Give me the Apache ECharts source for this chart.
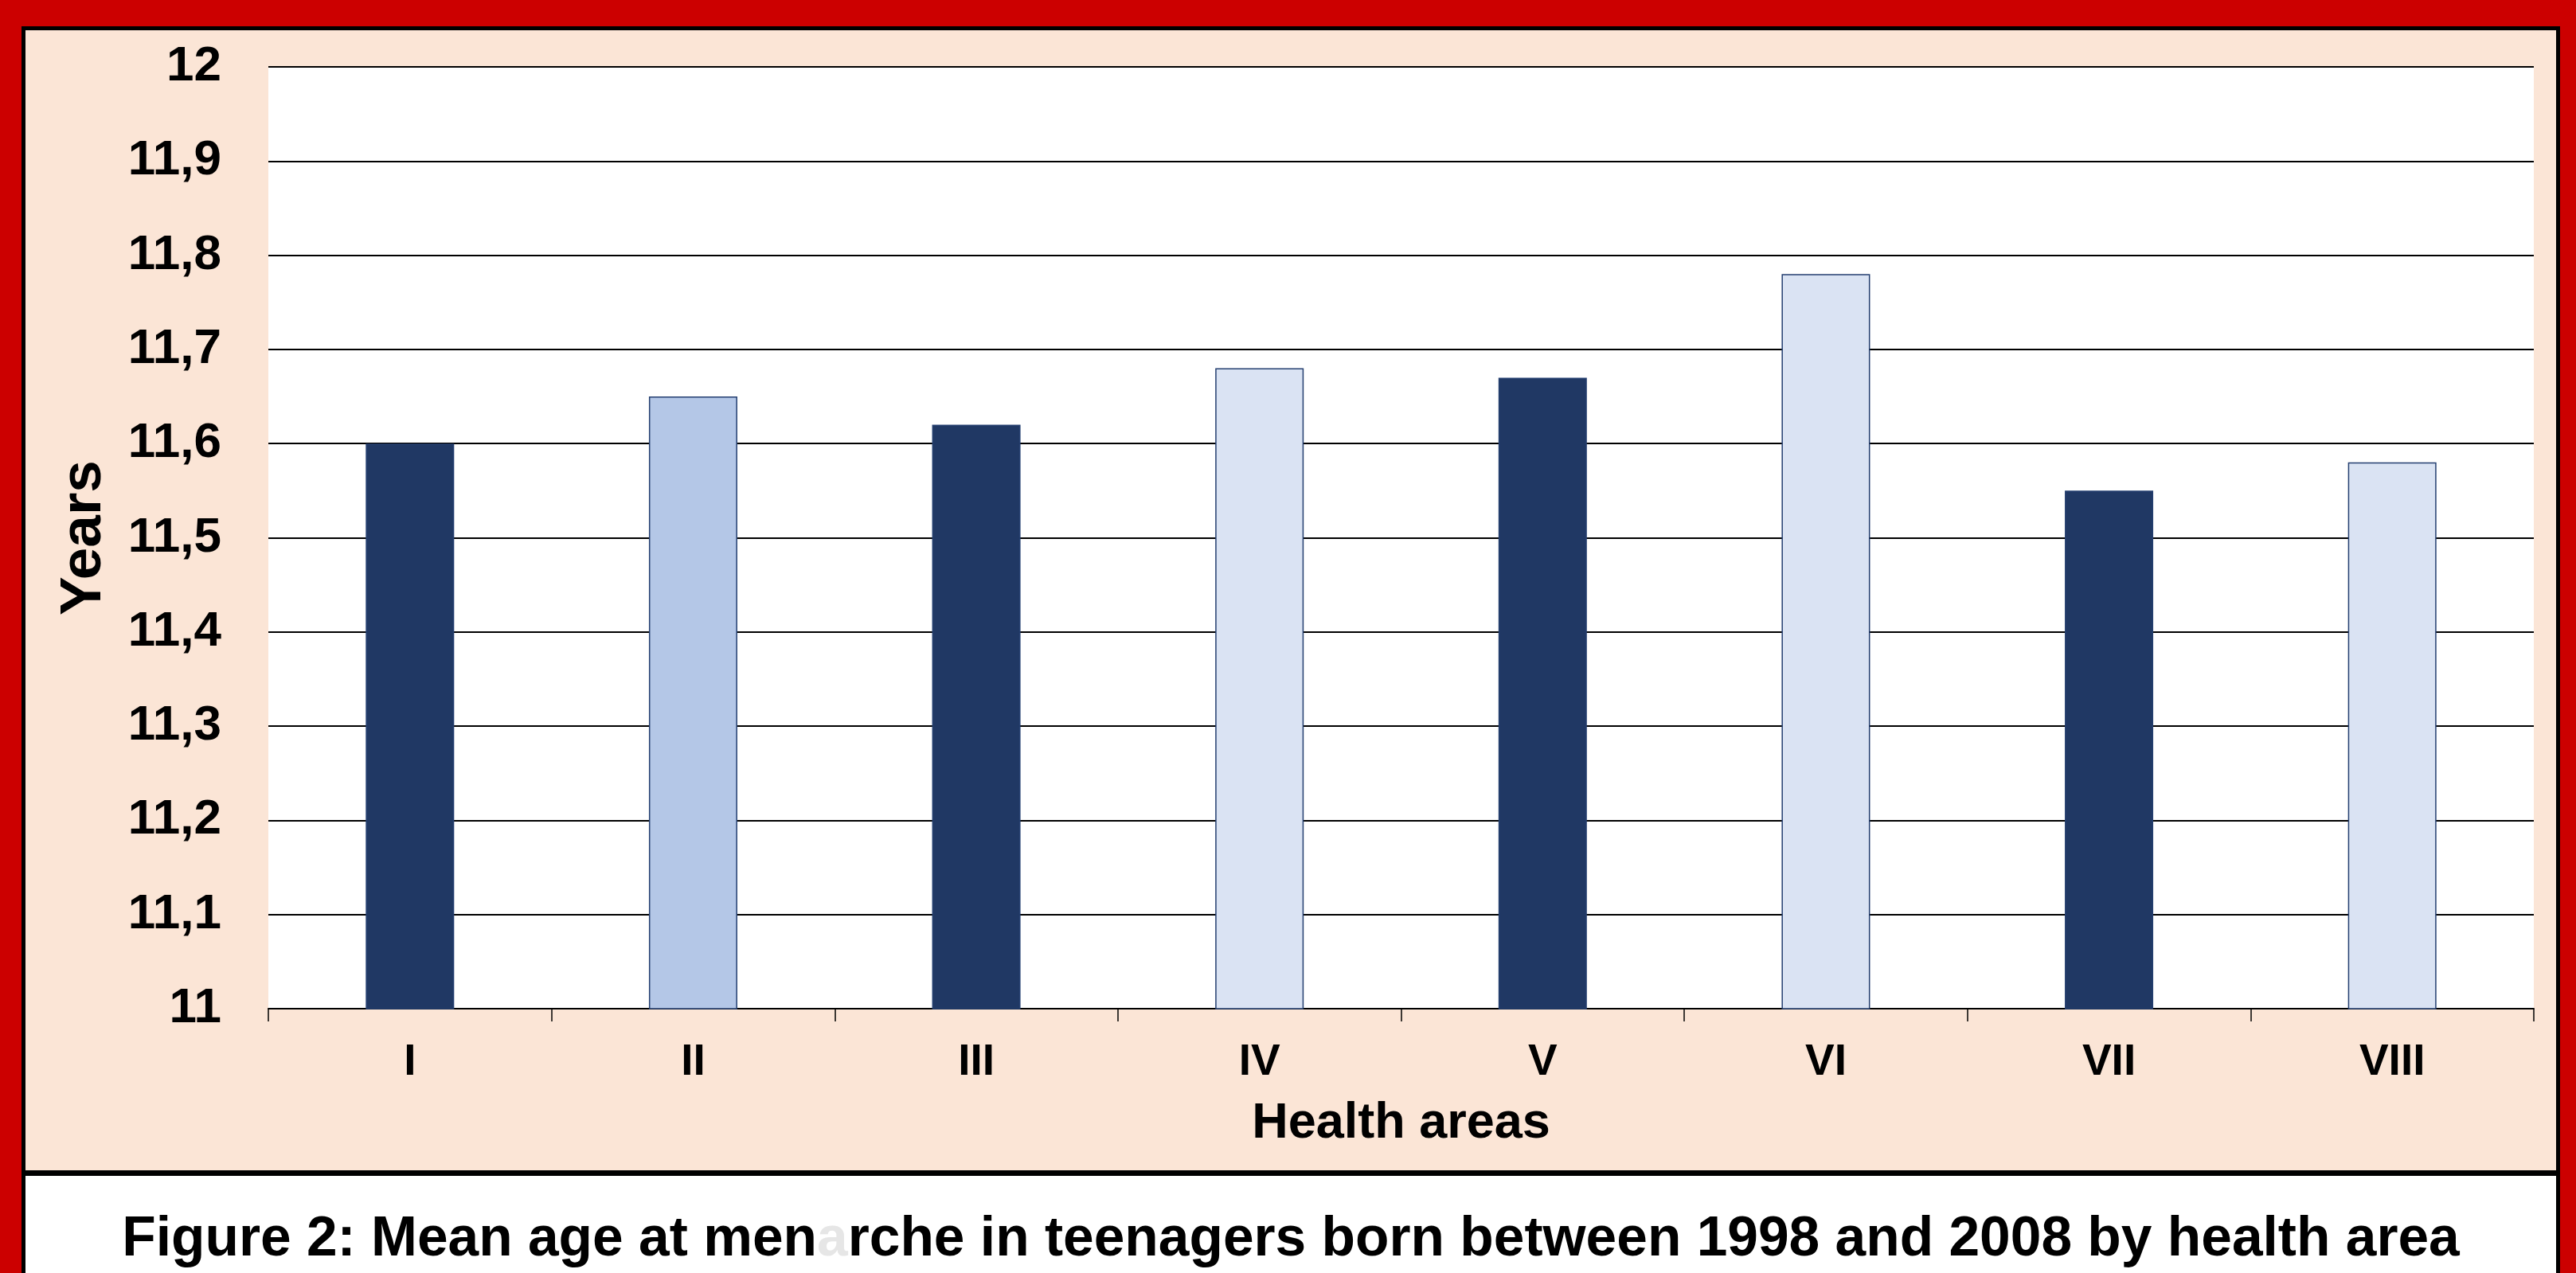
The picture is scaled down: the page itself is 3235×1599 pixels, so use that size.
<!DOCTYPE html>
<html>
<head>
<meta charset="utf-8">
<script src="https://cdn.jsdelivr.net/npm/echarts@6/dist/echarts.min.js"></script>
<style>
  html, body {
    margin: 0;
    padding: 0;
    width: 3235px;
    height: 1599px;
    overflow: hidden;
    background: #cc0000;
    font-family: 'Liberation Sans', Arial, sans-serif;
  }
  .frame {
    position: absolute;
    left: 27px;
    top: 33px;
    width: 3188px;
    height: 1640px;
    box-sizing: border-box;
    border: 5px solid #000;
    background: #fbe5d6;
  }
  .caption-box {
    position: absolute;
    left: 32px;
    top: 1470px;
    width: 3178px;
    height: 200px;
    box-sizing: border-box;
    border-top: 7px solid #000;
    background: #fff;
  }
  .caption {
    position: absolute;
    left: 32px;
    top: 1519px;
    width: 3178px;
    text-align: center;
    font-size: 69.5px;
    line-height: 69px;
    font-weight: bold;
    color: #000;
    white-space: nowrap;
  }
  .caption .ghost { color: #e6e6e6; }
  #chart {
    position: absolute;
    left: 0;
    top: 0;
    width: 3235px;
    height: 1599px;
  }
</style>
</head>
<body>
<div class="frame"></div>
<div class="caption-box"></div>
<div class="caption">Figure 2: Mean age at men<span class="ghost">a</span>rche in teenagers born between 1998 and 2008 by health area</div>
<div id="chart"></div>
<script>
// 数据
const areas = ['I', 'II', 'III', 'IV', 'V', 'VI', 'VII', 'VIII']
const meanAge = [11.60, 11.65, 11.62, 11.68, 11.67, 11.78, 11.55, 11.58]
const yTickLabels = ['11', '11,1', '11,2', '11,3', '11,4', '11,5', '11,6', '11,7', '11,8', '11,9', '12']

// 柱子颜色
const barColors = ['#203864', '#b4c7e7', '#203864', '#dae3f3', '#203864', '#dae3f3', '#203864', '#dae3f3']

const font = "'Liberation Sans', Arial, sans-serif"

const myChart = echarts.init(document.getElementById('chart'))

myChart.setOption({
  backgroundColor: 'transparent',
  animation: false,
  grid: {
    left: 337,
    right: 53,
    top: 84,
    bottom: 332,
    show: true,
    backgroundColor: '#fff',
    borderWidth: 0
  },
  xAxis: {
    type: 'category',
    data: areas,
    name: 'Health areas',
    nameLocation: 'middle',
    nameGap: 113,
    nameTextStyle: {
      fontFamily: font,
      fontWeight: 'bold',
      fontSize: 63,
      color: '#000'
    },
    axisLine: { lineStyle: { color: '#000', width: 2 } },
    axisTick: { show: true, length: 16, lineStyle: { color: '#000', width: 1.5 } },
    axisLabel: {
      margin: 40,
      fontFamily: font,
      fontWeight: 'bold',
      fontSize: 55,
      color: '#000'
    }
  },
  yAxis: {
    type: 'value',
    min: 11,
    max: 12,
    interval: 0.1,
    name: 'Years',
    nameLocation: 'middle',
    nameGap: 195,
    nameTextStyle: {
      fontFamily: font,
      fontWeight: 'bold',
      fontSize: 73,
      color: '#000'
    },
    axisLine: { show: false },
    axisTick: { show: false },
    axisLabel: {
      margin: 59,
      fontFamily: font,
      fontWeight: 'bold',
      fontSize: 62,
      color: '#000',
      formatter: function (v) {
        return yTickLabels[Math.round((v - 11) * 10)]
      }
    },
    // 背景线
    splitLine: {
      show: true,
      lineStyle: { color: '#000', width: 2 }
    }
  },
  series: [
    {
      type: 'bar',
      data: meanAge,
      barWidth: 111,
      itemStyle: {
        color: function (p) { return barColors[p.dataIndex] },
        borderColor: '#243f70',
        borderWidth: 1.5
      }
    }
  ]
})
</script>
</body>
</html>
